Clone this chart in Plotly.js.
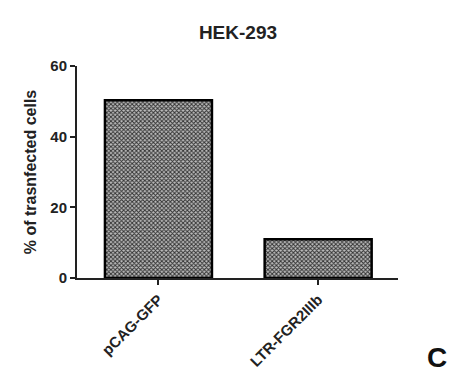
<!DOCTYPE html>
<html><head><meta charset="utf-8">
<script src="https://cdn.plot.ly/plotly-3.0.1.min.js"></script>
<style>html,body{margin:0;padding:0;background:#fff}#c{width:449px;height:383px}</style>
</head><body><div id="c"></div>
<script>
const categories = ["pCAG-GFP", "LTR-FGR2IIIb"];
const values = [50.3, 11.0];
const yTicks = [0, 20, 40, 60];
const chartTitle = "HEK-293";
const yTitle = "% of trasnfected cells";
const panelLabel = "C";

const F = "Liberation Sans, Arial, sans-serif";
Plotly.newPlot("c", [{
  type: "bar", x: categories, y: values, width: 0.67,
  marker: {
    color: "#8c8c8c",
    pattern: {shape: "x", size: 3, solidity: 0.55, fgcolor: "#333", bgcolor: "#bdbdbd"},
    line: {color: "#000", width: 2.5}
  },
  hoverinfo: "skip"
}], {
  width: 449, height: 383,
  margin: {l: 77, r: 51, t: 66, b: 105},
  paper_bgcolor: "#fff", plot_bgcolor: "#fff",
  showlegend: false,
  title: {text: chartTitle, x: 0.53, xanchor: "center", y: 0.915, yanchor: "middle",
          font: {family: F, size: 19, color: "#222", weight: "bold"}},
  xaxis: {range: [-0.51, 1.5], showline: true, linecolor: "#222", linewidth: 2,
          ticks: "outside", ticklen: 5, tickwidth: 2, tickcolor: "#222",
          tickangle: -45, showgrid: false, zeroline: false,
          tickfont: {family: F, size: 15, color: "#222", weight: "bold"}},
  yaxis: {range: [0, 60], tickvals: yTicks, showline: true, linecolor: "#222", linewidth: 2,
          ticks: "outside", ticklen: 5, tickwidth: 2, tickcolor: "#222",
          showgrid: false, zeroline: false,
          tickfont: {family: F, size: 15, color: "#222", weight: "bold"},
          title: {text: yTitle, standoff: 10, font: {family: F, size: 16, color: "#222", weight: "bold"}}},
  annotations: [{text: panelLabel, xref: "paper", yref: "paper", x: 1.16, y: -0.375,
                 xanchor: "right", yanchor: "middle", showarrow: false,
                 font: {family: F, size: 28, color: "#111", weight: "bold"}}]
}, {displayModeBar: false, staticPlot: true});
</script></body></html>
